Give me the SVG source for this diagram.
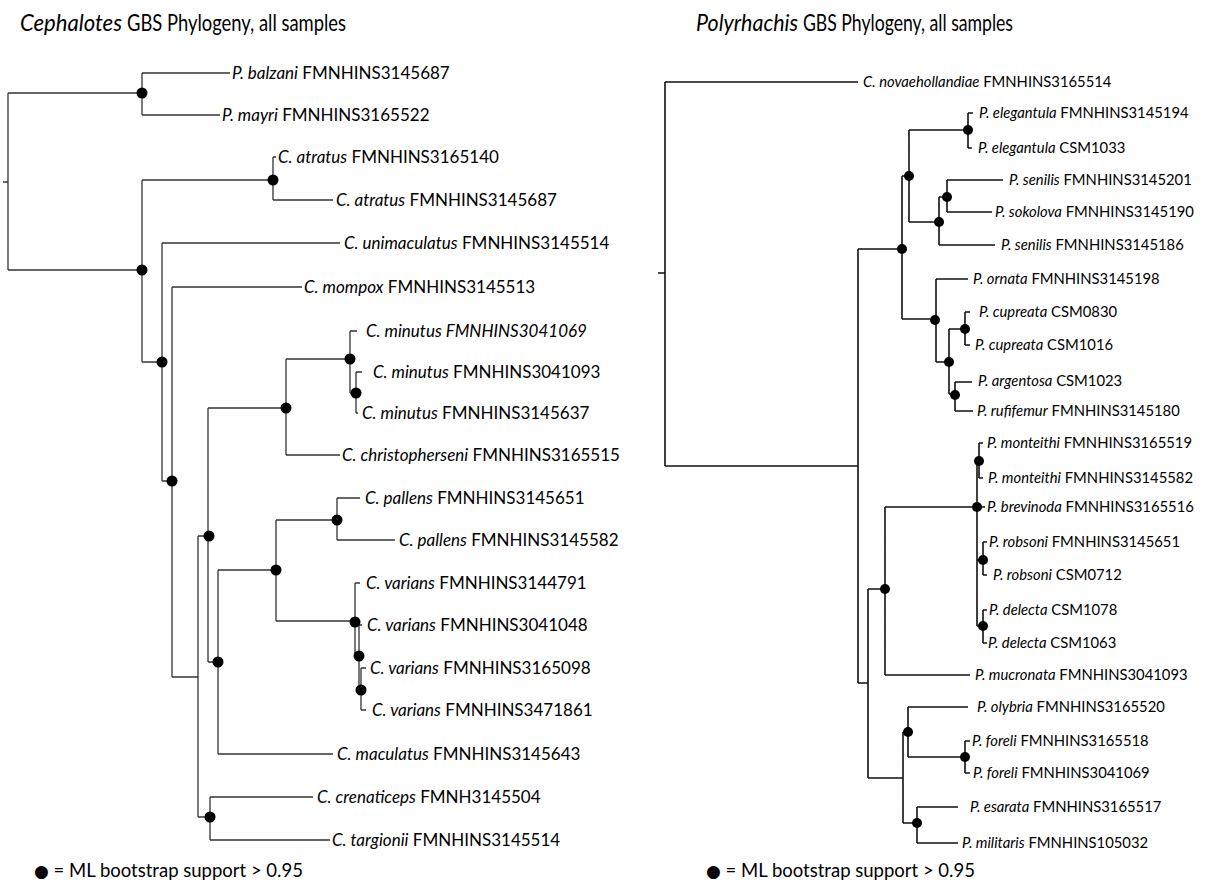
<svg xmlns="http://www.w3.org/2000/svg" width="1207" height="883" viewBox="0 0 1207 883">
<style>
.bg{fill:#fff}
.el{fill:none;stroke:#333;stroke-width:1.3}
.er{fill:none;stroke:#111;stroke-width:1.6}
.d{fill:#000}
.t{font-family:Lato,"Liberation Sans",sans-serif;fill:#000}
.l{font-size:17px}
.r{font-size:14.8px}
.i{font-style:italic}
.title{font-family:Lato,"Liberation Sans",sans-serif;font-size:24px;font-weight:400;fill:#000}
.leg{font-family:Lato,"Liberation Sans",sans-serif;font-size:18.5px;fill:#000}
</style>
<rect class="bg" x="0" y="0" width="1207" height="883"/>
<g id="title-left">
<text class="title i" x="20" y="31" textLength="102" lengthAdjust="spacingAndGlyphs">Cephalotes</text>
<text class="title" x="127" y="31" textLength="219" lengthAdjust="spacingAndGlyphs">GBS Phylogeny, all samples</text>
</g>
<g id="title-right">
<text class="title i" x="696" y="31" textLength="102" lengthAdjust="spacingAndGlyphs">Polyrhachis</text>
<text class="title" x="803" y="31" textLength="210" lengthAdjust="spacingAndGlyphs">GBS Phylogeny, all samples</text>
</g>
<g id="connectors">
<path class="el" d="M3,182H8 M8,93V270 M8,93H142 M142,73V115 M142,73H230 M142,115H220 M8,270H142 M142,180V362 M142,180H273 M273,157V200 M273,157H276 M273,200H333 M142,362H162 M162,243V481 M162,243H340 M162,481H172 M172,287V677 M172,287H302 M172,677H198 M198,536V817 M198,536H208 M208,408V662 M208,408H286 M286,359V455 M286,359H350 M350,331V393 M350,331H357 M350,393H356 M356,372V413 M356,372H362 M356,413H358 M286,455H340 M208,662H218 M218,570V754 M218,570H276 M276,520V621 M276,520H337 M337,498V540 M337,498H360 M337,540H395 M276,621H355 M355,583V656 M355,583H360 M355,656H359 M359,625V690 M359,625H362 M359,690H361 M361,668V710 M361,668H366 M361,710H366 M218,754H333 M198,817H210 M210,797V840 M210,797H313 M210,840H330"/>
<path class="er" d="M658,273H665 M665,82V466 M665,82H858 M665,466H858 M858,249V683 M858,249H902 M902,176V319 M902,176H909 M909,130V222 M909,130H968 M968,113V148 M968,113H973 M968,148H972 M909,222H939 M939,197V245 M939,197H947 M947,180V212 M947,180H1003 M947,212H992 M939,245H995 M902,319H936 M936,279V362 M936,279H968 M936,362H949 M949,329V394 M949,329H965 M965,312V345 M965,312H970 M965,345H970 M949,394H955 M955,382V411 M955,382H972 M955,411H973 M858,683H868 M868,589V778 M868,589H885 M885,507V675 M885,507H977 M977,461V626 M977,461H979 M979,443V478 M979,443H983 M979,478H983 M977,507H985 M977,560H983 M983,542V575 M983,542H987 M983,575H987 M977,626H983 M983,610V643 M983,610H987 M983,643H987 M885,675H970 M868,778H903 M903,732V823 M903,732H908 M908,707V757 M908,707H968 M908,757H965 M965,741V773 M965,741H970 M965,773H970 M903,823H917 M917,807V843 M917,807H958 M917,843H958"/>
</g>
<g id="internal-nodes-left">
<circle class="d" cx="142" cy="93" r="5.5"/>
<circle class="d" cx="273" cy="180" r="5.5"/>
<circle class="d" cx="142" cy="270" r="5.5"/>
<circle class="d" cx="162" cy="362" r="5.5"/>
<circle class="d" cx="350" cy="359" r="5.5"/>
<circle class="d" cx="356" cy="393" r="5.5"/>
<circle class="d" cx="286" cy="408" r="5.5"/>
<circle class="d" cx="172" cy="481" r="5.5"/>
<circle class="d" cx="209" cy="536" r="5.5"/>
<circle class="d" cx="337" cy="520" r="5.5"/>
<circle class="d" cx="276" cy="570" r="5.5"/>
<circle class="d" cx="355" cy="622" r="5.5"/>
<circle class="d" cx="359" cy="656" r="5.5"/>
<circle class="d" cx="361" cy="690" r="5.5"/>
<circle class="d" cx="218" cy="662" r="5.5"/>
<circle class="d" cx="210" cy="817" r="5.5"/>
</g>
<g id="internal-nodes-right">
<circle class="d" cx="902" cy="249" r="5"/>
<circle class="d" cx="909" cy="176" r="5"/>
<circle class="d" cx="968" cy="130" r="5"/>
<circle class="d" cx="939" cy="222" r="5"/>
<circle class="d" cx="947" cy="197" r="5"/>
<circle class="d" cx="935" cy="320" r="5"/>
<circle class="d" cx="949" cy="362" r="5"/>
<circle class="d" cx="965" cy="329" r="5"/>
<circle class="d" cx="955" cy="395" r="5"/>
<circle class="d" cx="885" cy="589" r="5"/>
<circle class="d" cx="977" cy="507" r="5"/>
<circle class="d" cx="979" cy="461" r="5"/>
<circle class="d" cx="983" cy="560" r="5"/>
<circle class="d" cx="983" cy="626" r="5"/>
<circle class="d" cx="908" cy="732" r="5"/>
<circle class="d" cx="965" cy="757" r="5"/>
<circle class="d" cx="917" cy="823" r="5"/>
</g>
<g id="tips-left" class="t l">
<g id="L1"><text x="232" y="79"><tspan class="i">P. balzani</tspan> FMNHINS3145687</text></g>
<g id="L2"><text x="222" y="121"><tspan class="i">P. mayri</tspan> FMNHINS3165522</text></g>
<g id="L3"><text x="278" y="163"><tspan class="i">C. atratus</tspan> FMNHINS3165140</text></g>
<g id="L4"><text x="336" y="206"><tspan class="i">C. atratus</tspan> FMNHINS3145687</text></g>
<g id="L5"><text x="344" y="249"><tspan class="i">C. unimaculatus</tspan> FMNHINS3145514</text></g>
<g id="L6"><text x="304" y="293"><tspan class="i">C. mompox</tspan> FMNHINS3145513</text></g>
<g id="L7"><text x="366" y="337"><tspan class="i">C. minutus FMNHINS3041069</tspan></text></g>
<g id="L8"><text x="373" y="378"><tspan class="i">C. minutus</tspan> FMNHINS3041093</text></g>
<g id="L9"><text x="362" y="419"><tspan class="i">C. minutus</tspan> FMNHINS3145637</text></g>
<g id="L10"><text x="342" y="461"><tspan class="i">C. christopherseni</tspan> FMNHINS3165515</text></g>
<g id="L11"><text x="365" y="504"><tspan class="i">C. pallens</tspan> FMNHINS3145651</text></g>
<g id="L12"><text x="399" y="546"><tspan class="i">C. pallens</tspan> FMNHINS3145582</text></g>
<g id="L13"><text x="366" y="589"><tspan class="i">C. varians</tspan> FMNHINS3144791</text></g>
<g id="L14"><text x="367" y="631"><tspan class="i">C. varians</tspan> FMNHINS3041048</text></g>
<g id="L15"><text x="370" y="674"><tspan class="i">C. varians</tspan> FMNHINS3165098</text></g>
<g id="L16"><text x="372" y="716"><tspan class="i">C. varians</tspan> FMNHINS3471861</text></g>
<g id="L17"><text x="337" y="760"><tspan class="i">C. maculatus</tspan> FMNHINS3145643</text></g>
<g id="L18"><text x="317" y="803"><tspan class="i">C. crenaticeps</tspan> FMNH3145504</text></g>
<g id="L19"><text x="332" y="846"><tspan class="i">C. targionii</tspan> FMNHINS3145514</text></g>
</g>
<g id="tips-right" class="t r">
<g id="R1"><text x="863" y="87"><tspan class="i">C. novaehollandiae</tspan> FMNHINS3165514</text></g>
<g id="R2"><text x="979" y="118"><tspan class="i">P. elegantula</tspan> FMNHINS3145194</text></g>
<g id="R3"><text x="978" y="153"><tspan class="i">P. elegantula</tspan> CSM1033</text></g>
<g id="R4"><text x="1009" y="185"><tspan class="i">P. senilis</tspan> FMNHINS3145201</text></g>
<g id="R5"><text x="995" y="217"><tspan class="i">P. sokolova</tspan> FMNHINS3145190</text></g>
<g id="R6"><text x="1001" y="250"><tspan class="i">P. senilis</tspan> FMNHINS3145186</text></g>
<g id="R7"><text x="973" y="284"><tspan class="i">P. ornata</tspan> FMNHINS3145198</text></g>
<g id="R8"><text x="979" y="317"><tspan class="i">P. cupreata</tspan> CSM0830</text></g>
<g id="R9"><text x="975" y="350"><tspan class="i">P. cupreata</tspan> CSM1016</text></g>
<g id="R10"><text x="978" y="386"><tspan class="i">P. argentosa</tspan> CSM1023</text></g>
<g id="R11"><text x="977" y="416"><tspan class="i">P. rufifemur</tspan> FMNHINS3145180</text></g>
<g id="R12"><text x="987" y="448"><tspan class="i">P. monteithi</tspan> FMNHINS3165519</text></g>
<g id="R13"><text x="988" y="483"><tspan class="i">P. monteithi</tspan> FMNHINS3145582</text></g>
<g id="R14"><text x="987" y="512"><tspan class="i">P. brevinoda</tspan> FMNHINS3165516</text></g>
<g id="R15"><text x="989" y="547"><tspan class="i">P. robsoni</tspan> FMNHINS3145651</text></g>
<g id="R16"><text x="993" y="580"><tspan class="i">P. robsoni</tspan> CSM0712</text></g>
<g id="R17"><text x="989" y="615"><tspan class="i">P. delecta</tspan> CSM1078</text></g>
<g id="R18"><text x="988" y="648"><tspan class="i">P. delecta</tspan> CSM1063</text></g>
<g id="R19"><text x="975" y="680"><tspan class="i">P. mucronata</tspan> FMNHINS3041093</text></g>
<g id="R20"><text x="977" y="712"><tspan class="i">P. olybria</tspan> FMNHINS3165520</text></g>
<g id="R21"><text x="972" y="746"><tspan class="i">P. foreli</tspan> FMNHINS3165518</text></g>
<g id="R22"><text x="973" y="778"><tspan class="i">P. foreli</tspan> FMNHINS3041069</text></g>
<g id="R23"><text x="970" y="812"><tspan class="i">P. esarata</tspan> FMNHINS3165517</text></g>
<g id="R24"><text x="962" y="848"><tspan class="i">P. militaris</tspan> FMNHINS105032</text></g>
</g>
<g id="legend-left"><text class="leg" x="34" y="877"><tspan font-family="DejaVu Sans" font-size="17">●</tspan> = ML bootstrap support &gt; 0.95</text></g>
<g id="legend-right"><text class="leg" x="706" y="877"><tspan font-family="DejaVu Sans" font-size="17">●</tspan> = ML bootstrap support &gt; 0.95</text></g>
</svg>
